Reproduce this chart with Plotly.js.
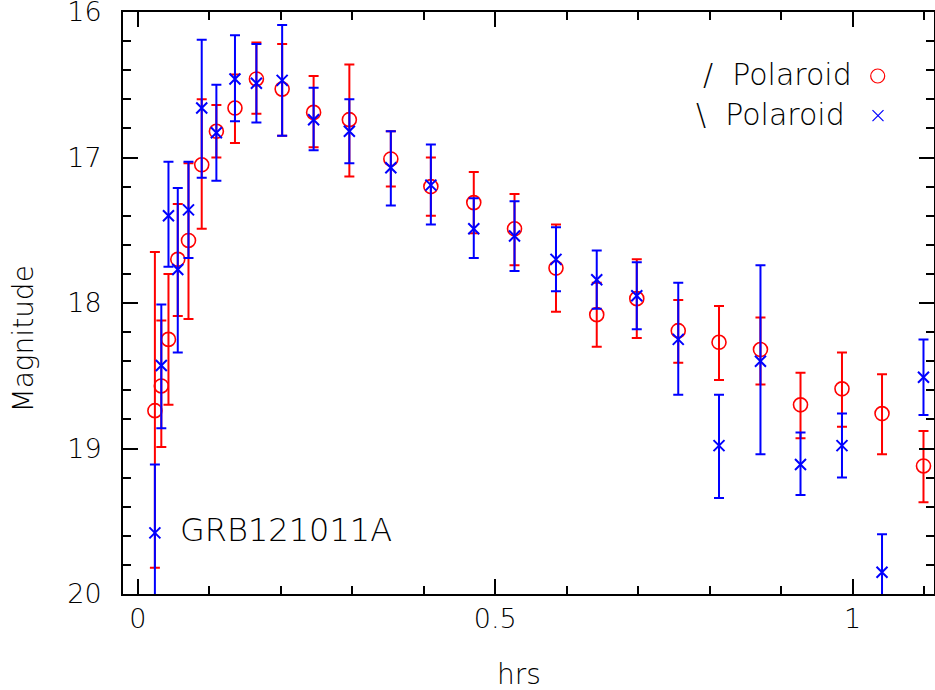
<!DOCTYPE html>
<html>
<head>
<meta charset="utf-8">
<script src="https://cdn.plot.ly/plotly-3.0.1.min.js"></script>
<style>html,body{margin:0;padding:0;background:#fff;}#chart{width:935px;height:690px;}</style>
</head>
<body>
<div id="chart"></div>
<script>
// time since burst (hrs), shared by both polaroid series
const hrs = [0.024,0.033,0.043,0.056,0.071,0.0895,0.110,0.136,0.166,0.202,0.246,0.296,0.354,0.410,0.470,0.527,0.585,0.642,0.698,0.756,0.813,0.871,0.927,0.985,1.041,1.099];

// "/ Polaroid" (red circles)
const magA      = [18.74,18.57,18.25,17.70,17.57,17.05,16.82,16.66,16.46,16.53,16.69,16.74,17.01,17.20,17.31,17.49,17.76,18.08,17.97,18.19,18.27,18.32,18.70,18.59,18.76,19.12];
const errA_up   = [1.09,0.45,0.45,0.38,0.53,0.45,0.18,0.23,0.25,0.31,0.25,0.38,0.19,0.20,0.21,0.24,0.30,0.22,0.27,0.21,0.25,0.22,0.22,0.25,0.27,0.24];
const errA_down = [1.08,0.42,0.45,0.39,0.54,0.44,0.18,0.24,0.24,0.32,0.24,0.39,0.19,0.20,0.21,0.25,0.30,0.22,0.27,0.22,0.26,0.24,0.23,0.26,0.28,0.25];

// "\ Polaroid" (blue crosses)
const magB      = [19.58,18.43,17.40,17.77,17.36,16.66,16.83,16.46,16.49,16.47,16.74,16.82,17.07,17.19,17.49,17.54,17.70,17.84,17.95,18.25,18.98,18.40,19.11,18.98,19.85,18.51];
const errB_up   = [0.47,0.42,0.37,0.56,0.33,0.47,0.33,0.30,0.27,0.38,0.22,0.22,0.25,0.28,0.21,0.24,0.22,0.20,0.23,0.39,0.35,0.66,0.22,0.22,0.26,0.26];
const errB_down = [0.47,0.43,0.35,0.57,0.33,0.48,0.33,0.29,0.27,0.38,0.21,0.22,0.26,0.27,0.20,0.24,0.22,0.20,0.23,0.38,0.36,0.64,0.21,0.22,0.26,0.26];

const seriesNames = ['/ Polaroid', '\\ Polaroid'];
const xLabel = 'hrs';
const yLabel = 'Magnitude';
const grbLabel = 'GRB121011A';

const RED = '#ff0000', BLUE = '#0000ff';
const FONT = 'DejaVu Sans, sans-serif';

const traces = [
  {
    type: 'scatter', mode: 'markers', name: seriesNames[0],
    x: hrs, y: magA,
    marker: {symbol: 'circle-open', size: 14, color: RED, line: {width: 1.6, color: RED}},
    error_y: {type: 'data', symmetric: false, array: errA_down, arrayminus: errA_up,
              color: RED, thickness: 2, width: 5},
    showlegend: false
  },
  {
    type: 'scatter', mode: 'markers', name: seriesNames[1],
    x: hrs, y: magB,
    marker: {symbol: 'x-thin-open', size: 11, color: BLUE, line: {width: 2, color: BLUE}},
    error_y: {type: 'data', symmetric: false, array: errB_down, arrayminus: errB_up,
              color: BLUE, thickness: 2, width: 5},
    showlegend: false
  }
];

const axisCommon = {
  showgrid: false, zeroline: false,
  showline: true, linecolor: '#000', linewidth: 2, mirror: 'allticks',
  ticks: 'inside', ticklen: 15, tickwidth: 2, tickcolor: '#000',
  ticklabeloverflow: 'allow',
  tickfont: {family: FONT, size: 27, color: '#000', weight: 200}
};

// legend label with the wider gap seen in the reference
const legendText = n => n.replace(' ', '&nbsp;&nbsp;');

const layout = {
  width: 935, height: 690,
  margin: {l: 123, r: 1, t: 12, b: 96, pad: 0},
  paper_bgcolor: '#fff', plot_bgcolor: '#fff',
  showlegend: false,
  xaxis: Object.assign({}, axisCommon, {
    range: [-0.0206, 1.1137], tickvals: [0, 0.5, 1], ticktext: ['0', '0.5', '1'],
    minor: {dtick: 0.1, tick0: 0, ticks: 'inside', ticklen: 8, tickwidth: 2, tickcolor: '#000'},
    ticklabelstandoff: 0
  }),
  yaxis: Object.assign({}, axisCommon, {
    range: [20, 16], tickvals: [16, 17, 18, 19, 20],
    minor: {dtick: 0.2, tick0: 16, ticks: 'inside', ticklen: 8, tickwidth: 2, tickcolor: '#000'},
    ticklabelstandoff: 14
  }),
  annotations: [
    {xref: 'paper', yref: 'paper', x: -0.1233, y: 0.4373, text: yLabel, textangle: -90,
     showarrow: false, xanchor: 'center', yanchor: 'middle',
     font: {family: FONT, size: 28, color: '#000', weight: 200}},
    {xref: 'paper', yref: 'paper', x: 0.4888, y: -0.1375, text: xLabel,
     showarrow: false, xanchor: 'center', yanchor: 'middle',
     font: {family: FONT, size: 28, color: '#000', weight: 200}},
    {xref: 'paper', yref: 'paper', x: (178 - 123) / 811, y: (594 - 529.5) / 582, text: grbLabel,
     showarrow: false, xanchor: 'left', yanchor: 'middle',
     font: {family: FONT, size: 32, color: '#000', weight: 200}},
    {xref: 'paper', yref: 'paper', x: (854 - 123) / 811, y: (594 - 75) / 582, text: legendText(seriesNames[0]),
     showarrow: false, xanchor: 'right', yanchor: 'middle',
     font: {family: FONT, size: 30, color: '#000', weight: 200}},
    {xref: 'paper', yref: 'paper', x: (847 - 123) / 811, y: (594 - 114) / 582, text: legendText(seriesNames[1]),
     showarrow: false, xanchor: 'right', yanchor: 'middle',
     font: {family: FONT, size: 30, color: '#000', weight: 200}}
  ],
  shapes: [
    {type: 'circle', xref: 'paper', yref: 'paper', xsizemode: 'pixel', ysizemode: 'pixel',
     xanchor: (877.7 - 123) / 811, yanchor: (594 - 76) / 582,
     x0: -7, x1: 7, y0: -7, y1: 7, line: {color: RED, width: 1.2}},
    {type: 'path', xref: 'paper', yref: 'paper', xsizemode: 'pixel', ysizemode: 'pixel',
     xanchor: (878 - 123) / 811, yanchor: (594 - 115.7) / 582,
     path: 'M -5.5 -5.5 L 5.5 5.5 M -5.5 5.5 L 5.5 -5.5', line: {color: BLUE, width: 1.2}}
  ]
};

Plotly.newPlot('chart', traces, layout, {staticPlot: true, displayModeBar: false});
</script>
</body>
</html>
